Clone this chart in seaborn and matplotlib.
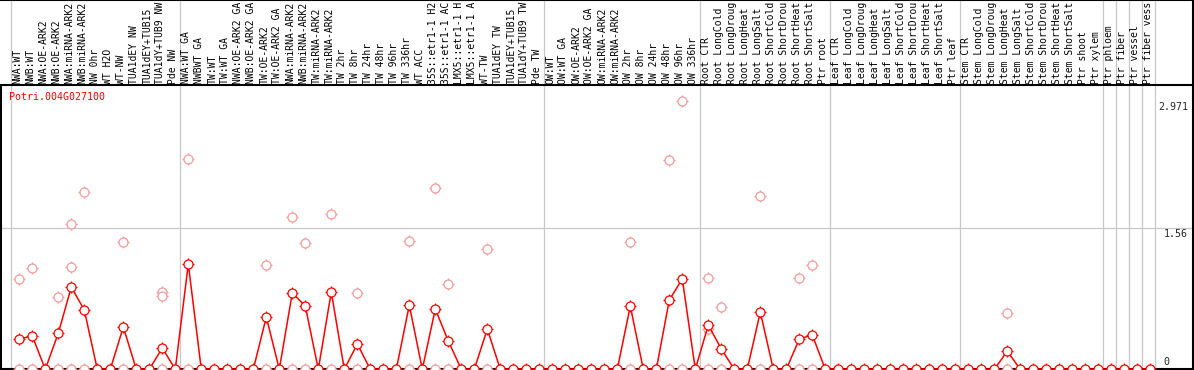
import numpy as np
import matplotlib
matplotlib.use("Agg")
import matplotlib.pyplot as plt
import seaborn as sns

# sample labels, one per column, grouped by experiment
group_labels = [
    ["NWA:WT", "NWB:WT", "NWA:OE-ARK2", "NWB:OE-ARK2", "NWA:miRNA-ARK2", "NWB:miRNA-ARK2",
     "NW 0hr", "WT H2O", "WT-NW", "TUA1dEY NW", "TUA1dEY+TUB15 NW", "TUA1dY+TUB9 NW", "Pde NW"],
    ["NWA:WT GA", "NWBWT GA", "TW:WT", "TW:WT GA", "NWA:OE-ARK2 GA", "NWB:OE-ARK2 GA",
     "TW:OE-ARK2", "TW:OE-ARK2 GA", "NWA:miRNA-ARK2 GA", "NWB:miRNA-ARK2 GA", "TW:miRNA-ARK2",
     "TW:miRNA-ARK2 GA", "TW 2hr", "TW 8hr", "TW 24hr", "TW 48hr", "TW 96hr", "TW 336hr",
     "WT ACC", "35S::etr1-1 H2O", "35S::etr1-1 ACC", "LMX5::etr1-1 H2O", "LMX5::etr1-1 ACC",
     "WT-TW", "TUA1dEY TW", "TUA1dEY+TUB15 TW", "TUA1dY+TUB9 TW", "Pde TW"],
    ["OW:WT", "OW:WT GA", "OW:OE-ARK2", "OW:OE-ARK2 GA", "OW:miRNA-ARK2", "OW:miRNA-ARK2 GA",
     "OW 2hr", "OW 8hr", "OW 24hr", "OW 48hr", "OW 96hr", "OW 336hr"],
    ["Root CTR", "Root LongCold", "Root LongDrought", "Root LongHeat", "Root LongSalt",
     "Root ShortCold", "Root ShortDrought", "Root ShortHeat", "Root ShortSalt", "Ptr root"],
    ["Leaf CTR", "Leaf LongCold", "Leaf LongDrought", "Leaf LongHeat", "Leaf LongSalt",
     "Leaf ShortCold", "Leaf ShortDrought", "Leaf ShortHeat", "Leaf ShortSalt", "Ptr leaf"],
    ["Stem CTR", "Stem LongCold", "Stem LongDrought", "Stem LongHeat", "Stem LongSalt",
     "Stem ShortCold", "Stem ShortDrought", "Stem ShortHeat", "Stem ShortSalt",
     "Ptr shoot", "Ptr xylem"],
    ["Ptr phloem"],
    ["Ptr fiber"],
    ["Ptr vessel"],
    ["Ptr fiber vessel"],
]

# mean expression (red line)
mean_values = [
    0.335, 0.368, 0, 0.40, 0.91, 0.656, 0, 0, 0.468, 0, 0, 0.236, 0,
    1.165, 0, 0, 0, 0, 0, 0.579, 0, 0.845, 0.70, 0, 0.855, 0, 0.28, 0, 0, 0, 0.71, 0,
    0.667, 0.313, 0, 0, 0.446, 0, 0, 0, 0,
    0, 0, 0, 0, 0, 0, 0.70, 0, 0, 0.767, 1.0, 0,
    0.49, 0.225, 0, 0, 0.634, 0, 0, 0.335, 0.38, 0,
    0, 0, 0, 0, 0, 0, 0, 0, 0, 0,
    0, 0, 0, 0.20, 0, 0, 0, 0, 0, 0, 0,
    0, 0, 0, 0,
]

# replicate values (pink points): column index and value
rep_idx = [0, 0, 1, 1, 3, 3, 4, 4, 4, 5, 5, 8, 8, 11, 11, 11, 13, 13, 19, 19,
           21, 21, 22, 22, 24, 24, 26, 26, 30, 30, 32, 32, 33, 33, 36, 36,
           47, 47, 50, 50, 51, 51, 53, 53, 53, 54, 54, 57, 57, 60, 60, 61, 61, 76, 76]
rep_val = [0.996, 0, 1.117, 0, 0.797, 0, 1.604, 1.13, 0, 1.96, 0, 1.405, 0, 0.855, 0.81, 0,
           2.323, 0, 1.154, 0, 1.685, 0, 1.394, 0, 1.718, 0, 0.84, 0, 1.416, 0, 2.006, 0,
           0.944, 0, 1.328, 0, 1.405, 0, 2.32, 0, 2.971, 0, 1.007, 0.446, 0, 0.686, 0,
           1.914, 0, 1.007, 0, 1.154, 0, 0.62, 0]

gene_name = "Potri.004G027100"
scale_values = [2.971, 1.56, 0]

labels = [lab for g in group_labels for lab in g]
xpos = np.arange(len(labels))

RED = "#ff0000"
PINK = "#f29b9b"
GRID = "#c8c8c8"

sns.set_style("white")
plt.rcParams["font.family"] = ["DejaVu Sans Mono"]

fig = plt.figure(figsize=(11.94, 3.70), dpi=100)
ax = fig.add_axes([0, 0, 1, 1])
ax.set_axis_off()

# pixel layout: column i at 19.3 + 13*i, value 0 at y=369.3, 90.38 px per unit
ax.set_xlim(-19.3 / 13, (1194 - 19.3) / 13)
ax.set_ylim((369.3 - 370) / 90.38, 369.3 / 90.38)
y_header = (369.3 - 85) / 90.38
y_top = 369.3 / 90.38

# group separators
starts = np.cumsum([0] + [len(g) for g in group_labels])
for s in starts:
    ax.axvline(s - 0.62, color=GRID, lw=0.9, zorder=1)
ax.axhline(scale_values[1], color=GRID, lw=0.9, zorder=1)

# frame lines
ax.axhline(y_header, color="black", lw=1.5, zorder=2)
ax.axhline(0, color="black", lw=1.5, zorder=2)
ax.axhline(y_top - 0.005, color="black", lw=1.5, zorder=2)
ax.axvline((1193 - 19.3) / 13, color="black", lw=1.5, zorder=2)
ax.plot([(1.2 - 19.3) / 13] * 2, [0, y_header], color="black", lw=1.5, zorder=2)

# replicate points
sns.scatterplot(x=rep_idx, y=rep_val, marker="+", color=PINK, s=80, linewidth=0.9,
                ax=ax, zorder=3)
sns.scatterplot(x=rep_idx, y=rep_val, marker="o", color="white", edgecolor=PINK, s=42,
                linewidth=0.9, ax=ax, zorder=3)

# mean line with markers
sns.lineplot(x=xpos, y=mean_values, color=RED, lw=1.1, ax=ax, zorder=4)
sns.scatterplot(x=xpos, y=mean_values, marker="+", color=RED, s=80, linewidth=0.9,
                ax=ax, zorder=5)
sns.scatterplot(x=xpos, y=mean_values, marker="o", color="white", edgecolor=RED, s=42,
                linewidth=0.9, ax=ax, zorder=5)

# sample labels in the header, cut to the 14 characters that fit
for x, lab in zip(xpos, labels):
    ax.text(x - 0.14, (369.3 - 84) / 90.38, lab[:14].rstrip(), rotation=90, ha="center",
            va="bottom", fontsize=7.0, color="black", zorder=6)

ax.text((9 - 19.3) / 13, (369.3 - 92) / 90.38, gene_name, color=RED, fontsize=7.2,
        ha="left", va="top", zorder=6)

# scale labels on the right
lx = (1158 - 19.3) / 13
ax.text(lx, scale_values[0] - 0.01, f"{scale_values[0]:g}", fontsize=7.2, ha="left", va="top")
ax.text(lx + 0.45, scale_values[1] - 0.01, f"{scale_values[1]:g}", fontsize=7.2, ha="left", va="top")
ax.text(lx + 0.45, scale_values[2] + 0.03, f"{scale_values[2]:g}", fontsize=7.2, ha="left", va="bottom")

fig.savefig("out.png", dpi=100)
